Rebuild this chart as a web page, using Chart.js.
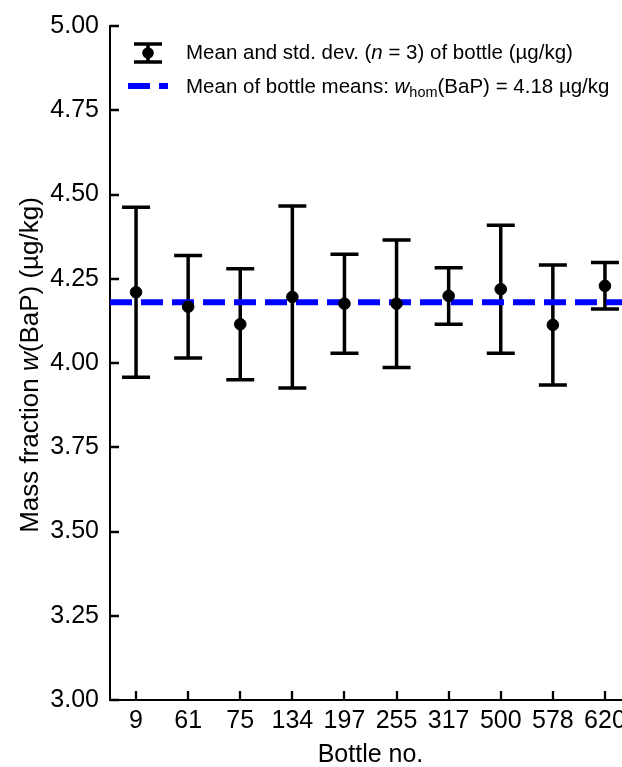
<!DOCTYPE html>
<html>
<head>
<meta charset="utf-8">
<script src="https://cdn.jsdelivr.net/npm/chart.js@4"></script>
<style>
  html, body { margin: 0; padding: 0; background: #fff; overflow: hidden; }
  #wrap { width: 640px; height: 767px; }
</style>
</head>
<body>
<div id="wrap"><canvas id="homChart" width="640" height="767"></canvas></div>
<script>
// ====== DATA ======
const bottles = ["9", "61", "75", "134", "197", "255", "317", "500", "578", "620"];
const means = [4.210, 4.167, 4.115, 4.196, 4.176, 4.176, 4.199, 4.219, 4.113, 4.229];
const stdDevs = [0.252, 0.152, 0.165, 0.270, 0.147, 0.189, 0.084, 0.190, 0.178, 0.069];
const grandMean = 4.18;
const yTickValues = [3.00, 3.25, 3.50, 3.75, 4.00, 4.25, 4.50, 4.75, 5.00];

const FONT = "'Liberation Sans', Arial, sans-serif";
const BLUE = "#0000ff";

// ====== PLUGIN: error bars, inward ticks, titles, legend ======
const extras = {
  id: "extras",
  beforeDatasetsDraw(chart) {
    const { ctx, scales: { x, y } } = chart;
    ctx.save();
    ctx.strokeStyle = "#000";
    ctx.lineWidth = 3.5;
    means.forEach((m, i) => {
      const px = x.getPixelForValue(i);
      const top = y.getPixelForValue(m + stdDevs[i]);
      const bot = y.getPixelForValue(m - stdDevs[i]);
      ctx.beginPath();
      ctx.moveTo(px, top); ctx.lineTo(px, bot);
      ctx.moveTo(px - 14, top); ctx.lineTo(px + 14, top);
      ctx.moveTo(px - 14, bot); ctx.lineTo(px + 14, bot);
      ctx.stroke();
    });
    ctx.restore();
  },
  afterDraw(chart) {
    const { ctx, chartArea: a, scales: { x, y } } = chart;
    ctx.save();
    // inward ticks
    ctx.strokeStyle = "#000";
    ctx.lineWidth = 2.3;
    ctx.beginPath();
    y.ticks.forEach(t => {
      const py = Math.round(y.getPixelForValue(t.value));
      ctx.moveTo(a.left, py); ctx.lineTo(a.left + 9, py);
    });
    x.ticks.forEach(t => {
      const px = Math.round(x.getPixelForValue(t.value));
      ctx.moveTo(px, a.bottom); ctx.lineTo(px, a.bottom - 9);
    });
    ctx.stroke();

    ctx.fillStyle = "#000";
    ctx.textBaseline = "alphabetic";

    // x title
    ctx.font = "25px " + FONT;
    ctx.textAlign = "center";
    ctx.fillText("Bottle no.", (a.left + a.right) / 2, 762);

    // y title with italic w
    const parts = [
      { t: "Mass fraction ", f: "26px " + FONT },
      { t: "w", f: "italic 26px " + FONT },
      { t: "(BaP) (µg/kg)", f: "26px " + FONT }
    ];
    let total = 0;
    parts.forEach(p => { ctx.font = p.f; p.w = ctx.measureText(p.t).width; total += p.w; });
    ctx.save();
    ctx.translate(38, 365);
    ctx.rotate(-Math.PI / 2);
    ctx.textAlign = "left";
    let cx = -total / 2;
    parts.forEach(p => { ctx.font = p.f; ctx.fillText(p.t, cx, 0); cx += p.w; });
    ctx.restore();

    // legend
    ctx.textAlign = "left";
    // row 1: errorbar symbol
    ctx.lineWidth = 3.5;
    ctx.beginPath();
    ctx.moveTo(148, 44); ctx.lineTo(148, 62);
    ctx.moveTo(134, 44); ctx.lineTo(162, 44);
    ctx.moveTo(134, 62); ctx.lineTo(162, 62);
    ctx.stroke();
    ctx.beginPath();
    ctx.arc(148, 53, 5.8, 0, Math.PI * 2);
    ctx.fill();
    const row = (items, x0, base) => {
      let cx = x0;
      items.forEach(p => {
        ctx.font = p.f;
        ctx.fillText(p.t, cx, base + (p.dy || 0));
        cx += ctx.measureText(p.t).width;
      });
    };
    const lf = "20.5px " + FONT, li = "italic 20.5px " + FONT, ls = "14.5px " + FONT;
    row([
      { t: "Mean and std. dev. (", f: lf },
      { t: "n", f: li },
      { t: " = 3) of bottle (µg/kg)", f: lf }
    ], 186, 59);
    // row 2: dashed line symbol
    ctx.strokeStyle = BLUE;
    ctx.lineWidth = 6;
    ctx.setLineDash([22, 9]);
    ctx.beginPath();
    ctx.moveTo(128, 86); ctx.lineTo(168, 86);
    ctx.stroke();
    ctx.setLineDash([]);
    row([
      { t: "Mean of bottle means: ", f: lf },
      { t: "w", f: li },
      { t: "hom", f: ls, dy: 4 },
      { t: "(BaP) = 4.18 µg/kg", f: lf }
    ], 186, 93);
    ctx.restore();
  }
};

// ====== CHART ======
const ctx = document.getElementById("homChart").getContext("2d");
new Chart(ctx, {
  type: "scatter",
  data: {
    datasets: [
      {
        label: "Mean and std. dev. (n = 3) of bottle (µg/kg)",
        data: means.map((m, i) => ({ x: i, y: m })),
        backgroundColor: "#000",
        borderColor: "#000",
        pointRadius: 5.8,
        pointHoverRadius: 5.8,
        order: 1
      },
      {
        type: "line",
        label: "Mean of bottle means",
        data: [{ x: -0.5, y: grandMean }, { x: bottles.length - 0.5, y: grandMean }],
        borderColor: BLUE,
        borderWidth: 6,
        borderDash: [22, 9],
        pointRadius: 0,
        fill: false,
        order: 2
      }
    ]
  },
  options: {
    responsive: false,
    animation: false,
    devicePixelRatio: 1,
    layout: { padding: { top: 22, right: 9, left: 0, bottom: 0 } },
    plugins: {
      legend: { display: false },
      tooltip: { enabled: false }
    },
    scales: {
      x: {
        type: "linear",
        min: -0.5,
        max: bottles.length - 0.5,
        afterBuildTicks: s => { s.ticks = bottles.map((_, i) => ({ value: i })); },
        afterFit: s => { s.height = 67; },
        grid: { display: false, drawTicks: false },
        border: { display: true, color: "#000", width: 2 },
        ticks: {
          color: "#000",
          font: { family: FONT, size: 25 },
          padding: 6,
          maxRotation: 0,
          autoSkip: false,
          callback: v => bottles[v]
        }
      },
      y: {
        min: 3,
        max: 5,
        afterBuildTicks: s => { s.ticks = yTickValues.map(v => ({ value: v })); },
        afterFit: s => { s.width = 110; },
        grid: { display: false, drawTicks: false },
        border: { display: true, color: "#000", width: 2 },
        ticks: {
          color: "#000",
          font: { family: FONT, size: 25 },
          padding: 11,
          callback: v => v.toFixed(2)
        }
      }
    }
  },
  plugins: [extras]
});
</script>
</body>
</html>
